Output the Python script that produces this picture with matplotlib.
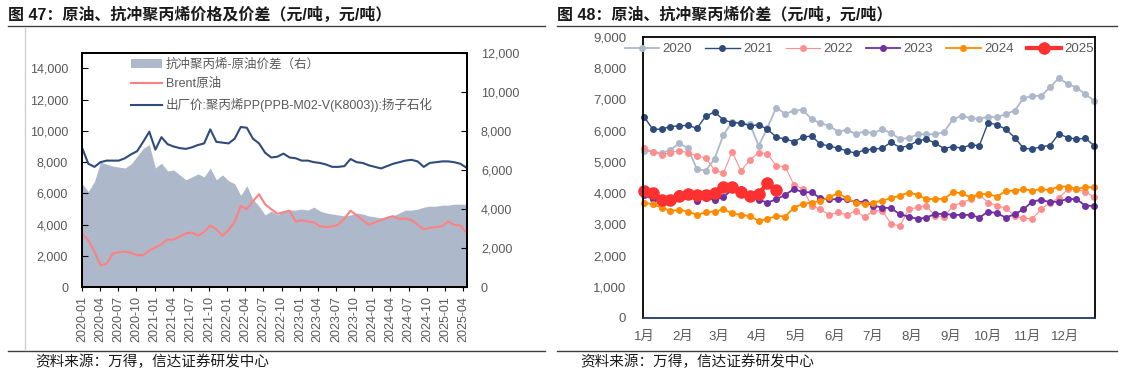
import matplotlib
matplotlib.use('Agg')
import matplotlib.pyplot as plt
import matplotlib.dates as mdates
from matplotlib.lines import Line2D
import numpy as np
import pandas as pd

plt.rcParams['font.family'] = ['Liberation Sans', 'Noto Sans CJK SC', 'DejaVu Sans']

# ---- left chart: monthly readings, 2020-01 .. 2025-04 ----
pp_price = [8900, 7900, 7700, 8000, 8100, 8100, 8100, 8250, 8500, 8700, 9300, 9950,
            8800, 9600, 9150, 9000, 8900, 8850, 8950, 9100, 9200, 10100, 9300, 9250,
            9200, 9500, 10250, 10200, 9500, 9200, 8600, 8300, 8350, 8550, 8300, 8250,
            8100, 8100, 8000, 7950, 7850, 7700, 7700, 7750, 8200, 8000, 7950, 7800,
            7700, 7600, 7750, 7900, 8000, 8100, 8150, 8050, 7700, 7950, 8000, 8050,
            8050, 8000, 7900, 7650]
brent = [3450, 3000, 2300, 1400, 1500, 2150, 2250, 2280, 2200, 2050, 2050, 2350,
         2550, 2750, 3050, 3050, 3250, 3450, 3500, 3300, 3550, 3950, 3700, 3300,
         3650, 4200, 5200, 5000, 5500, 5950, 5300, 5000, 4700, 4800, 4900, 4200,
         4300, 4200, 4150, 3900, 3850, 3900, 4000, 4400, 4900, 4600, 4300, 4000,
         4150, 4300, 4450, 4550, 4350, 4400, 4300, 4000, 3700, 3800, 3850, 3900,
         4200, 4000, 3950, 3500]
spread = [5300, 4900, 5400, 6400, 6300, 6200, 6150, 6100, 6300, 6700, 7100, 7300,
          6100, 6350, 5950, 6000, 5750, 5500, 5650, 5800, 5650, 6100, 5500, 5750,
          5450, 5300, 4700, 5200, 4500, 4150, 3700, 3900, 3700, 3900, 3950, 3950,
          4000, 3950, 4100, 3900, 3800, 3750, 3700, 3650, 3700, 3800, 3750, 3650,
          3600, 3550, 3600, 3650, 3800, 3950, 3950, 4000, 4100, 4150, 4150, 4200,
          4200, 4250, 4250, 4250]
dates = pd.date_range('2020-01-02', '2025-04-18', periods=len(pp_price))
quarter_ticks = pd.date_range('2020-01-01', '2025-04-01', freq='QS')

# ---- right chart: weekly spread by year ----
s2020 = [5360, 5330, 5278, 5385, 5598, 5438, 4765, 4722, 5085, 5865, 6270, 6240, 6218,
         5510, 6100, 6741, 6537, 6644, 6665, 6367, 6240, 6153, 5972, 6025, 5897, 5972,
         5918, 6047, 5918, 5737, 5758, 5886, 5886, 5886, 5950, 6367, 6474, 6400, 6377,
         6452, 6431, 6537, 6644, 7039, 7114, 7114, 7392, 7681, 7500, 7380, 7167, 6965]
s2021 = [6452, 6047, 6047, 6132, 6150, 6175, 6070, 6460, 6602, 6346, 6260, 6240, 6160,
         6180, 6050, 5790, 5735, 5650, 5790, 5830, 5565, 5510, 5438, 5352, 5278, 5385,
         5406, 5438, 5630, 5459, 5513, 5673, 5726, 5598, 5427, 5491, 5438, 5545, 5523,
         6260, 6185, 6047, 5780, 5438, 5406, 5491, 5523, 5897, 5780, 5726, 5758, 5523]
s2022 = [5438, 5330, 5224, 5299, 5352, 5299, 5192, 5117, 4743, 4636, 5330, 4711, 5064,
         5299, 5256, 4872, 4850, 4263, 4135, 3590, 3483, 3300, 3386, 3300, 3440, 3226,
         3430, 3440, 3013, 2949, 3483, 3547, 3590, 3270, 3248, 3590, 3697, 3804, 3943,
         3697, 3601, 3515, 3270, 3195, 3173, 3483, 3697, 3836, 4124, 4124, 4049, 3868]
s2023 = [3942, 3804, 3730, 3762, 4017, 3975, 3762, 3836, 3783, 3868, 4124, 4124, 3943,
         3783, 3697, 3804, 3943, 4135, 4027, 4027, 3836, 3804, 3804, 3804, 3708, 3730,
         3601, 3537, 3515, 3323, 3248, 3173, 3216, 3334, 3334, 3302, 3302, 3302, 3216,
         3409, 3355, 3216, 3323, 3483, 3730, 3783, 3708, 3730, 3815, 3804, 3601, 3590]
s2024 = [3697, 3643, 3537, 3430, 3462, 3409, 3302, 3387, 3409, 3483, 3355, 3302, 3270,
         3109, 3173, 3270, 3248, 3537, 3654, 3697, 3750, 3868, 3996, 3836, 3697, 3654,
         3697, 3761, 3836, 3922, 4017, 3943, 3804, 3815, 3815, 4027, 3996, 3868, 3975,
         3965, 3890, 4070, 4081, 4124, 4081, 4124, 4102, 4210, 4210, 4135, 4188, 4188]
s2025 = [4081, 4017, 3783, 3783, 3922, 3975, 3943, 3943, 4017, 4210, 4210, 4049, 3911,
         3975, 4316, 4102]
months = ['1月', '2月', '3月', '4月', '5月', '6月', '7月', '8月', '9月', '10月', '11月', '12月']
month_start_day = [0, 31, 59, 90, 120, 151, 181, 212, 243, 273, 304, 334]

gray = '#595959'

fig = plt.figure(figsize=(11.23, 3.75), dpi=100)
W, H = 1123, 375

# titles, rules and source notes
fig.text(8 / W, 1 - 15 / H, '图 47：原油、抗冲聚丙烯价格及价差（元/吨，元/吨）',
         fontsize=11.5, weight='bold', color='#1a1a1a', va='center')
fig.text(557 / W, 1 - 15 / H, '图 48：原油、抗冲聚丙烯价差（元/吨，元/吨）',
         fontsize=11.5, weight='bold', color='#1a1a1a', va='center')
for x0, x1 in [(8, 545), (557, 1117)]:
    fig.add_artist(Line2D([x0 / W, x1 / W], [1 - 26 / H, 1 - 26 / H], color='#404040', lw=1))
    fig.add_artist(Line2D([x0 / W, x1 / W], [1 - 351 / H, 1 - 351 / H], color='#404040', lw=1))
fig.add_artist(Line2D([25 / W, 25 / W], [1 - 28 / H, 1 - 349 / H], color='#d0d0d0', lw=1))
fig.text(35 / W, 1 - 362 / H, '资料来源：万得，信达证券研发中心', fontsize=10.5,
         style='italic', color='#1a1a1a', va='center')
fig.text(580 / W, 1 - 362 / H, '资料来源：万得，信达证券研发中心', fontsize=10.5,
         style='italic', color='#1a1a1a', va='center')

# ---- left chart ----
ax1 = fig.add_axes([82 / W, 1 - 287.3 / H, 385 / W, 234.6 / H])
ax2 = ax1.twinx()
ax1.set_zorder(ax2.get_zorder() + 1)
ax1.patch.set_visible(False)

area = ax2.fill_between(dates, spread, color='#adb9ca', lw=0, label='抗冲聚丙烯-原油价差（右）')
l_brent, = ax1.plot(dates, brent, color='#ff8080', lw=1.5, label='Brent原油')
l_pp, = ax1.plot(dates, pp_price, color='#2f4b7c', lw=1.5,
                 label='出厂价:聚丙烯PP(PPB-M02-V(K8003)):扬子石化')

ax1.set_ylim(0, 15000)
ax1.set_yticks(range(0, 15000, 2000))
ax2.set_ylim(0, 12000)
ax2.set_yticks(range(0, 12001, 2000))
ax1.set_xlim(pd.Timestamp('2020-01-01'), pd.Timestamp('2025-04-21'))
ax1.set_xticks(quarter_ticks)
ax1.xaxis.set_major_formatter(mdates.DateFormatter('%Y-%m'))
for lab in ax1.get_xticklabels():
    lab.set_rotation(90)

ax1.yaxis.set_major_formatter(matplotlib.ticker.StrMethodFormatter('{x:,.0f}'))
ax2.yaxis.set_major_formatter(matplotlib.ticker.StrMethodFormatter('{x:,.0f}'))
ax1.tick_params(axis='y', direction='in', length=4, pad=10, labelsize=9, labelcolor=gray, color='black')
ax2.tick_params(axis='y', direction='in', length=4, pad=10, labelsize=9, labelcolor=gray, color='black')
ax1.tick_params(axis='x', direction='out', length=3, pad=3, labelsize=9, labelcolor=gray, color='black')
for a in (ax1, ax2):
    for sp in a.spines.values():
        sp.set_color('black')
        sp.set_linewidth(1.3)

ax1.legend([area, l_brent, l_pp], [area.get_label(), l_brent.get_label(), l_pp.get_label()],
           loc='upper left', bbox_to_anchor=(0.127, 0.975), frameon=False, fontsize=9,
           labelcolor=gray, handlelength=2.5, handletextpad=0.3, labelspacing=0.6,
           borderpad=0, borderaxespad=0)

# ---- right chart ----
ax3 = fig.add_axes([643 / W, 1 - 318 / H, 452 / W, 281 / H])
styles = [
    ('2020', s2020, '#adb9ca', 1.3, 4),
    ('2021', s2021, '#2f4b7c', 1.0, 4),
    ('2022', s2022, '#ff8f8f', 0.8, 4),
    ('2023', s2023, '#7030a0', 1.3, 4),
    ('2024', s2024, '#ff8c00', 1.3, 4),
    ('2025', s2025, '#ff3030', 3.0, 8),
]
for name, vals, col, lw, ms in styles:
    ax3.plot(np.arange(len(vals)), vals, color=col, lw=lw, marker='o', ms=ms,
             label=name, clip_on=False)

ax3.set_xlim(-0.1, 51.1)
ax3.set_ylim(0, 9000)
ax3.set_yticks(range(0, 9001, 1000))
ax3.yaxis.set_major_formatter(matplotlib.ticker.StrMethodFormatter('{x:,.0f}'))
ax3.set_xticks([d / 7 for d in month_start_day])
ax3.set_xticklabels(months)
ax3.tick_params(axis='both', length=0, labelsize=9.5, labelcolor=gray)
ax3.tick_params(axis='y', pad=12)
ax3.tick_params(axis='x', pad=9)
for side in ['left', 'top', 'right']:
    ax3.spines[side].set_color('black')
    ax3.spines[side].set_linewidth(1.3)
ax3.spines['bottom'].set_color('#1f3864')
ax3.spines['bottom'].set_linewidth(1.3)

ax3.legend(loc='upper left', bbox_to_anchor=(625 / W, 1 - 43 / H),
           bbox_transform=fig.transFigure, ncol=6, frameon=False, fontsize=9.5,
           labelcolor=gray, handlelength=2.6, handletextpad=0.25, columnspacing=1.0,
           borderpad=0, borderaxespad=0)

fig.savefig('out.png', dpi=100)
